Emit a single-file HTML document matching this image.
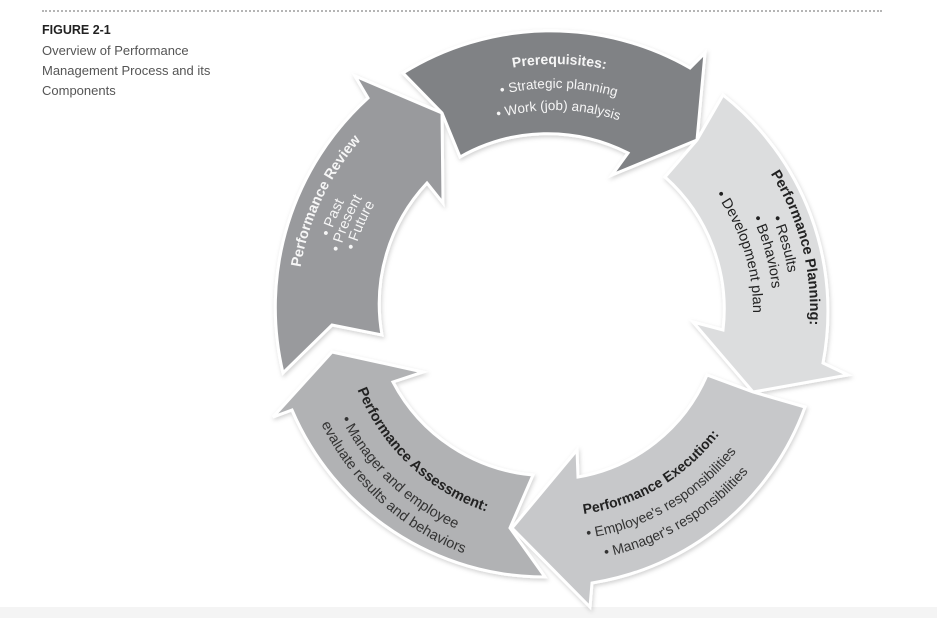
<!DOCTYPE html>
<html><head><meta charset="utf-8"><style>
html,body{margin:0;padding:0;background:#fff;}
body{width:937px;height:618px;overflow:hidden;position:relative;font-family:"Liberation Sans",sans-serif;}
.dots{position:absolute;left:42px;top:10px;width:840px;border-top:2px dotted #b5b5b5;}
.cap{position:absolute;left:42px;top:20px;color:#555;font-size:13px;line-height:20px;}
.cap b{color:#222;font-size:12.5px;display:block;margin-bottom:1px;}
.foot{position:absolute;left:0;top:607px;width:937px;height:11px;background:#f4f4f4;}
svg{position:absolute;left:0;top:0;}
</style></head><body>
<div class="dots"></div>
<div class="cap"><b>FIGURE 2-1</b>Overview of Performance<br>Management Process and its<br>Components</div>
<div class="foot"></div>
<svg width="937" height="618" viewBox="0 0 937 618">
<defs>
<filter id="sh" x="-10%" y="-10%" width="120%" height="120%">
<feDropShadow dx="1" dy="2" stdDeviation="2" flood-color="#000" flood-opacity="0.18"/>
</filter>
<path id="t1" d="M396.9,121.6 A246 246 0 0 1 719.6,127.2"/>
<path id="t2" d="M412.3,139.9 A222 222 0 0 1 703.5,145.0"/>
<path id="t3" d="M426.4,156.8 A200 200 0 0 1 688.8,161.4"/>
<path id="r1" d="M300.5,267.4 A258 258 0 0 1 510.2,55.9"/>
<path id="r2" d="M329.6,236.8 A237 237 0 0 1 473.9,87.3"/>
<path id="r3" d="M339.6,252.3 A223 223 0 0 1 478.7,100.4"/>
<path id="r4" d="M354.6,250.6 A209 209 0 0 1 483.5,113.6"/>
<path id="p1" d="M770.6,173.7 A255 255 0 0 1 775.8,437.5"/>
<path id="p2" d="M772.2,217.8 A236 236 0 0 1 759.4,428"/>
<path id="p3" d="M752.6,217.9 A218 218 0 0 1 743.8,419"/>
<path id="p4" d="M715.8,194.5 A198 198 0 0 1 726.5,409"/>
<path id="e1" d="M583.7,514 A206 206 0 0 0 748.6,380.5"/>
<path id="e2" d="M587,537.8 A230 230 0 0 0 771.1,388.7"/>
<path id="e3" d="M605.2,556.9 A252 252 0 0 0 791.8,396.2"/>
<path id="a1" d="M357.5,389.8 A213 213 0 0 0 536.4,522.2"/>
<path id="a2" d="M341.2,419 A240 240 0 0 0 534.1,549.1"/>
<path id="a3" d="M321.3,424 A260 260 0 0 0 532.3,569"/>
</defs>
<g filter="url(#sh)" stroke="#fff" stroke-width="3" stroke-linejoin="miter">
<path fill="#999a9d" d="M283,373 A283 283 0 0 1 368,98 L355,76 L442,113 L443,203 L427,183 A177 177 0 0 0 382,335 L332,325 Z"/>
<path fill="#808285" d="M403,73 A280 280 0 0 1 690,68 L705,53 L697,140 L612,175 L628,153 A177 177 0 0 0 460,157 L442,113 Z"/>
<path fill="#dcddde" d="M723,95 A275 275 0 0 1 823,363 L848,375 L753,392 L693,322 L723,330 A177 177 0 0 0 665,177 L697,140 Z"/>
<path fill="#c7c8ca" d="M805,407 A272 272 0 0 1 592,583 L590,607 L512,528 L577,450 L578,477 A172 172 0 0 0 707,375 L753,392 Z"/>
<path fill="#b1b2b4" d="M545,577 A275 275 0 0 1 292,410 L273,417 L332,352 L423,372 L393,382 A175 175 0 0 0 533,475 L510,528 Z"/>
</g>
<g font-family="Liberation Sans, sans-serif">
<g fill="#f6f6f6">
<text font-size="14" font-weight="bold"><textPath href="#t1" startOffset="50%" text-anchor="middle">Prerequisites:</textPath></text>
<text font-size="13.5"><textPath href="#t2" startOffset="50%" text-anchor="middle">• Strategic planning</textPath></text>
<text font-size="13.5"><textPath href="#t3" startOffset="50%" text-anchor="middle">• Work (job) analysis</textPath></text>
<text font-size="14.5" font-weight="bold"><textPath href="#r1">Performance Review</textPath></text>
<text font-size="14.5"><textPath href="#r2">• Past</textPath></text>
<text font-size="14.5"><textPath href="#r3">• Present</textPath></text>
<text font-size="14.5"><textPath href="#r4">• Future</textPath></text>
</g>
<g fill="#222">
<text font-size="14.5" font-weight="bold"><textPath href="#p1">Performance Planning:</textPath></text>
<text font-size="14.5"><textPath href="#p2">• Results</textPath></text>
<text font-size="14.5"><textPath href="#p3">• Behaviors</textPath></text>
<text font-size="14.5"><textPath href="#p4">• Development plan</textPath></text>
<text font-size="14" font-weight="bold"><textPath href="#e1">Performance Execution:</textPath></text>
<text font-size="14" fill="#333"><textPath href="#e2">• Employee's responsibilities</textPath></text>
<text font-size="14" fill="#333"><textPath href="#e3">• Manager's responsibilities</textPath></text>
<text font-size="14.5" font-weight="bold"><textPath href="#a1">Performance Assessment:</textPath></text>
<text font-size="14.5" fill="#333"><textPath href="#a2">• Manager and employee</textPath></text>
<text font-size="14.5" fill="#333"><textPath href="#a3">evaluate results and behaviors</textPath></text>
</g>
</g>
</svg>
</body></html>
